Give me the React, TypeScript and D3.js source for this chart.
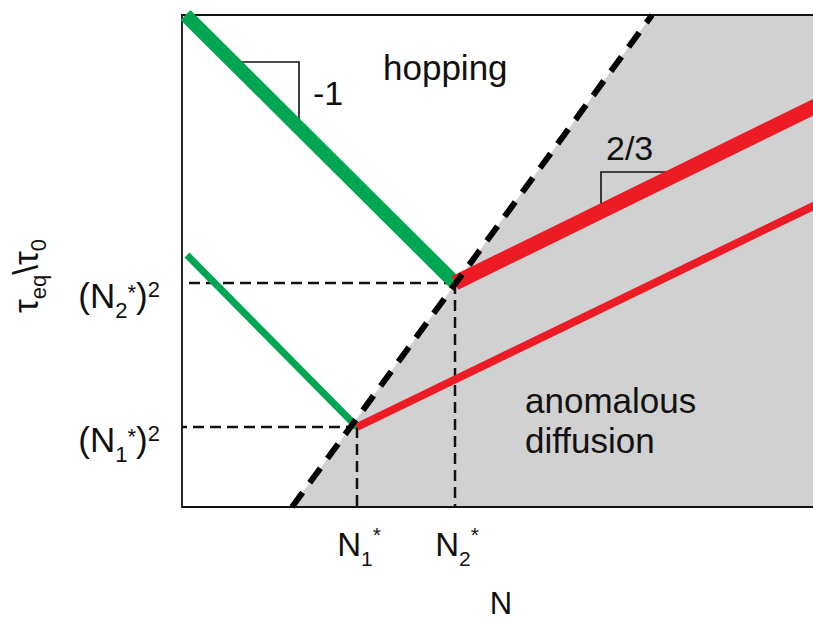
import React from "react";
import * as d3 from "d3";

// Schematic in log-log units: x = log N, y = log(tau_eq / tau_0)
const X_MAX = 6.5;
const Y_MAX = 4.92;

// Crossover points N1*, N2* and their squared relaxation times
const nStar = [1.75, 2.73];
const tauStar = [0.8, 2.24];
const starIndex = ["1", "2"];

// Boundary between hopping and anomalous diffusion regimes
const boundary: [number, number][] = [
  [1.1, 0],
  [4.7, Y_MAX],
];

// Hopping branches (slope -1) and anomalous-diffusion branches (slope 2/3)
const greenThick: [number, number][] = [
  [0.035, Y_MAX],
  [2.73, 2.24],
];
const greenThin: [number, number][] = [
  [0.05, 2.52],
  [1.75, 0.8],
];
const redThick: [number, number][] = [
  [2.73, 2.24],
  [6.5, 4.09],
];
const redThin: [number, number][] = [
  [1.75, 0.8],
  [6.5, 3.1],
];

// Slope markers
const slopeMinusOne: [number, number][] = [
  [0.508, 4.45],
  [1.17, 4.45],
  [1.17, 3.79],
];
const slopeTwoThirds: [number, number][] = [
  [4.99, 3.35],
  [4.19, 3.35],
  [4.19, 2.957],
];

const regionLabels = [
  { text: "hopping", x: 2.01, y: 4.27 },
  { text: "anomalous", x: 3.43, y: 0.94 },
  { text: "diffusion", x: 3.43, y: 0.54 },
];
const slopeLabels = [
  { text: "-1", x: 1.31, y: 4.02 },
  { text: "2/3", x: 4.24, y: 3.47 },
];

const GREEN = "#00a651";
const RED = "#ed1c24";
const GRAY = "#d1d1d1";
const INK = "#111";

export default function App() {
  const width = 813;
  const height = 620;
  const left = 182;
  const top = 15;
  const bottom = 507;

  const x = d3.scaleLinear().domain([0, X_MAX]).range([left, left + X_MAX * 100]);
  const y = d3.scaleLinear().domain([0, Y_MAX]).range([bottom, top]);
  const line = d3
    .line<[number, number]>()
    .x((d) => x(d[0]))
    .y((d) => y(d[1]));

  const region: [number, number][] = [
    boundary[0],
    boundary[1],
    [X_MAX, Y_MAX],
    [X_MAX, 0],
  ];

  return (
    <svg
      width={width}
      height={height}
      style={{ position: "absolute", left: 0, top: 0, background: "#fff" }}
      fontFamily="'Liberation Sans', Arial, Helvetica, sans-serif"
    >
      {/* anomalous-diffusion region */}
      <path d={line(region) + "Z"} fill={GRAY} />

      {/* frame */}
      <path
        d={line([
          [X_MAX, Y_MAX],
          [0, Y_MAX],
          [0, 0],
          [X_MAX, 0],
        ])!}
        fill="none"
        stroke={INK}
        strokeWidth={1.8}
      />

      {/* guides to the crossover points */}
      {nStar.map((n, i) => (
        <g key={"guide" + i} stroke={INK} strokeWidth={2.5} strokeDasharray="11 6" fill="none">
          <path d={line([[n, tauStar[i]], [0, tauStar[i]]])!} />
          <path d={line([[n, tauStar[i]], [n, 0]])!} />
        </g>
      ))}

      {/* slope markers */}
      <path d={line(slopeMinusOne)!} fill="none" stroke={INK} strokeWidth={1.6} />
      <path d={line(slopeTwoThirds)!} fill="none" stroke={INK} strokeWidth={1.6} />

      {/* branches */}
      <path d={line(greenThick)!} stroke={GREEN} strokeWidth={14} fill="none" />
      <path d={line(greenThin)!} stroke={GREEN} strokeWidth={7} fill="none" />
      <path d={line(redThick)!} stroke={RED} strokeWidth={15} fill="none" />
      <path d={line(redThin)!} stroke={RED} strokeWidth={8} fill="none" />

      {/* regime boundary */}
      <path
        d={line(boundary)!}
        stroke="#000"
        strokeWidth={6}
        strokeDasharray="18 12"
        fill="none"
      />

      {/* region and slope labels */}
      {regionLabels.map((l) => (
        <text key={l.text} x={x(l.x)} y={y(l.y)} fontSize={35} fill={INK}>
          {l.text}
        </text>
      ))}
      {slopeLabels.map((l) => (
        <text key={l.text} x={x(l.x)} y={y(l.y)} fontSize={34} fill={INK}>
          {l.text}
        </text>
      ))}

      {/* y tick labels */}
      {tauStar.map((t, i) => (
        <text
          key={"yt" + i}
          x={160}
          y={y(t) + 25}
          fontSize={35}
          textAnchor="end"
          fill={INK}
        >
          (N
          <tspan fontSize={22} dy={10}>
            {starIndex[i]}
          </tspan>
          <tspan fontSize={22} dy={-18}>
            *
          </tspan>
          <tspan dy={8}>)</tspan>
          <tspan fontSize={22} dy={-11}>
            2
          </tspan>
        </text>
      ))}

      {/* x tick labels */}
      {nStar.map((n, i) => (
        <text key={"xt" + i} x={x(n) + 2} y={556} fontSize={33} textAnchor="middle" fill={INK}>
          N
          <tspan fontSize={21} dy={10}>
            {starIndex[i]}
          </tspan>
          <tspan fontSize={21} dy={-24}>
            *
          </tspan>
        </text>
      ))}

      {/* axis titles */}
      <text x={501} y={614} fontSize={31} textAnchor="middle" fill={INK}>
        N
      </text>
      <g transform="translate(38,276) rotate(-90)">
        <text x={0} y={0} fontSize={35} textAnchor="middle" fill={INK}>
          τ
          <tspan fontSize={22} dy={8}>
            eq
          </tspan>
          <tspan dy={-8}>\</tspan>
          <tspan>τ</tspan>
          <tspan fontSize={22} dy={8}>
            0
          </tspan>
        </text>
      </g>
    </svg>
  );
}
